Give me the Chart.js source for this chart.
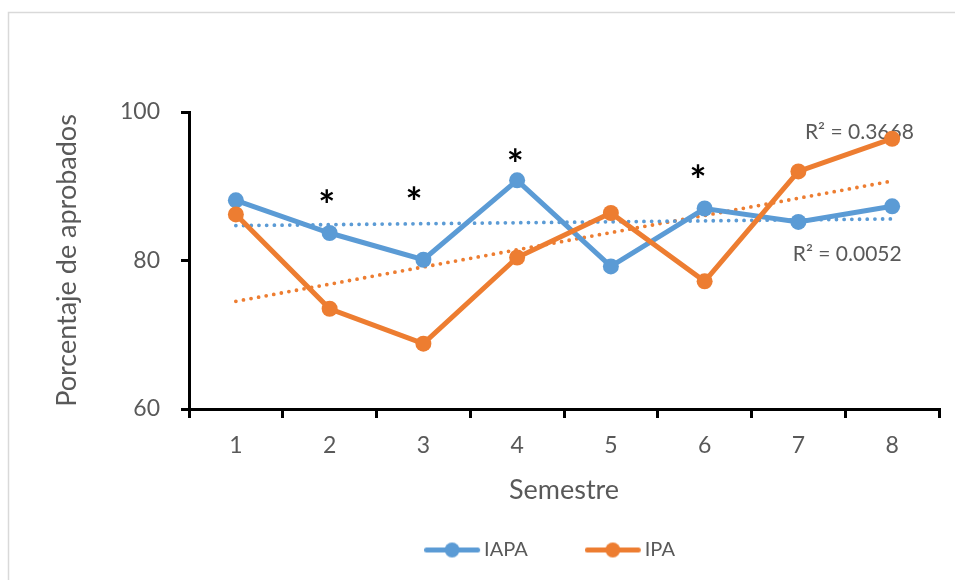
<!DOCTYPE html>
<html><head><meta charset="utf-8">
<script src="https://cdn.jsdelivr.net/npm/chart.js@4.4.1/dist/chart.umd.min.js"></script>
<style>html,body{margin:0;padding:0;background:#fff;}#wrap{width:955px;height:580px;position:relative;}</style>
</head><body><div id="wrap"><canvas id="c"></canvas></div>
<script>
// ---- data ----
const semesters = ['1', '2', '3', '4', '5', '6', '7', '8'];
const iapa = [88.1, 83.7, 80.1, 90.8, 79.2, 87.0, 85.2, 87.3];
const ipa = [86.2, 73.5, 68.8, 80.4, 86.4, 77.2, 92.0, 96.4];
const iapaTrend = [84.7, 85.6];   // linear trend value at semester 1 and 8
const ipaTrend = [74.5, 90.7];
const yTicks = [60, 80, 100];
const r2Texts = ['R\u00B2 = 0.3668', 'R\u00B2 = 0.0052'];
const r2Semester = [7.07, 6.94];
const r2Value = [97.3, 80.8];
const asteriskSemester = [1.97, 2.9, 3.98, 5.93];
const asteriskValue = [88.7, 89.1, 94.2, 92.1];

const BLUE = '#5B9BD5', ORANGE = '#ED7D31', GREY = '#595959';
const FAMILY = 'Lato';

function trendSeries(ends) {
  const arr = semesters.map(() => null);
  arr[0] = ends[0];
  arr[arr.length - 1] = ends[1];
  return arr;
}

// legend icon: line with circle marker
const LEG_FS = 20, MARK = 56, GAP = 4, SHIFT = -29;
const BOXW = MARK + GAP - LEG_FS / 2 + SHIFT;
function legendIcon(color) {
  const half = Math.max(BOXW / 2 - SHIFT, MARK + SHIFT - BOXW / 2);
  const W = Math.ceil(half * 2), H = 17;
  const c = document.createElement('canvas'); c.width = W; c.height = H;
  const g = c.getContext('2d');
  const x0 = (W / 2 - BOXW / 2) + SHIFT;
  g.strokeStyle = color; g.lineWidth = 5; g.lineCap = 'round';
  g.beginPath(); g.moveTo(x0 + 2.5, H / 2); g.lineTo(x0 + MARK - 2.5, H / 2); g.stroke();
  g.fillStyle = color; g.beginPath(); g.arc(x0 + MARK / 2, H / 2, 7.5, 0, Math.PI * 2); g.fill();
  return c;
}
const icons = [legendIcon(BLUE), legendIcon(ORANGE)];

const annot = {
  id: 'annot',
  beforeDraw(chart) {
    const ctx = chart.ctx;
    ctx.save();
    ctx.strokeStyle = '#d9d9d9'; ctx.lineWidth = 1.5;
    ctx.strokeRect(8.5, 12.5, 1200, 1200);
    ctx.restore();
  },
  beforeDatasetsDraw(chart) {
    const ctx = chart.ctx, xs = chart.scales.x, ys = chart.scales.y;
    ctx.save();
    ctx.fillStyle = GREY;
    ctx.font = '21px ' + FAMILY;
    ctx.textAlign = 'left'; ctx.textBaseline = 'middle';
    r2Texts.forEach((t, i) => {
      ctx.fillText(t, xs.getPixelForValue(r2Semester[i] - 1), ys.getPixelForValue(r2Value[i]));
    });
    ctx.fillStyle = '#000';
    ctx.font = 'bold 40px ' + FAMILY;
    ctx.textAlign = 'center'; ctx.textBaseline = 'alphabetic';
    const m = ctx.measureText('*');
    const off = (m.actualBoundingBoxAscent - m.actualBoundingBoxDescent) / 2;
    asteriskSemester.forEach((s, i) => {
      ctx.fillText('*', xs.getPixelForValue(s - 1), ys.getPixelForValue(asteriskValue[i]) + off);
    });
    ctx.restore();
  }
};

Chart.defaults.font.family = FAMILY;
Chart.defaults.color = GREY;

new Chart(document.getElementById('c'), {
  type: 'line',
  data: {
    labels: semesters,
    datasets: [
      { label: 'IAPA', data: iapa, borderColor: BLUE, backgroundColor: BLUE, borderWidth: 5,
        pointRadius: 8, pointHoverRadius: 8, pointBorderWidth: 0, pointBackgroundColor: BLUE, order: 2 },
      { label: 'IPA', data: ipa, borderColor: ORANGE, backgroundColor: ORANGE, borderWidth: 5,
        pointRadius: 8, pointHoverRadius: 8, pointBorderWidth: 0, pointBackgroundColor: ORANGE, order: 1 },
      { label: 'trendIAPA', data: trendSeries(iapaTrend), borderColor: BLUE, borderWidth: 3.8,
        borderDash: [0, 7.7], borderCapStyle: 'round', pointRadius: 0, spanGaps: true, order: 3 },
      { label: 'trendIPA', data: trendSeries(ipaTrend), borderColor: ORANGE, borderWidth: 3.8,
        borderDash: [0, 7.7], borderCapStyle: 'round', pointRadius: 0, spanGaps: true, order: 4 }
    ]
  },
  options: {
    responsive: true, maintainAspectRatio: false, animation: false, devicePixelRatio: 1,
    layout: { padding: { top: 112, right: 16, left: 0, bottom: 10 } },
    plugins: {
      tooltip: { enabled: false },
      legend: {
        position: 'bottom', fullSize: false,
        labels: {
          usePointStyle: true, pointStyleWidth: BOXW, padding: MARK + 1 - SHIFT,
          font: { size: LEG_FS }, color: GREY,
          generateLabels(chart) {
            const items = Chart.defaults.plugins.legend.labels.generateLabels(chart);
            return items.filter(it => it.datasetIndex < 2)
              .sort((a, b) => a.datasetIndex - b.datasetIndex)
              .map(it => Object.assign(it, { pointStyle: icons[it.datasetIndex] }));
          }
        }
      }
    },
    scales: {
      x: {
        offset: true,
        grid: { offset: true, drawOnChartArea: false, color: '#000', lineWidth: 3, tickLength: 9 },
        border: { color: '#000', width: 3 },
        ticks: { font: { size: 23 }, color: GREY, padding: 14 },
        title: { display: true, text: 'Semestre', font: { size: 27 }, color: GREY, padding: { top: 0, bottom: -52 } },
        afterFit(s) { s.height = 45; }
      },
      y: {
        min: 60, max: 100,
        afterBuildTicks(s) { s.ticks = yTicks.map(v => ({ value: v })); },
        grid: { drawOnChartArea: false, color: '#000', lineWidth: 3, tickLength: 8 },
        border: { color: '#000', width: 3 },
        ticks: { font: { size: 23 }, color: GREY, padding: 21 },
        title: { display: true, text: 'Porcentaje de aprobados', font: { size: 27 }, color: GREY, padding: { top: 51, bottom: 0 } },
        afterFit(s) { s.width = 189; }
      }
    }
  },
  plugins: [annot]
});
</script></body></html>
